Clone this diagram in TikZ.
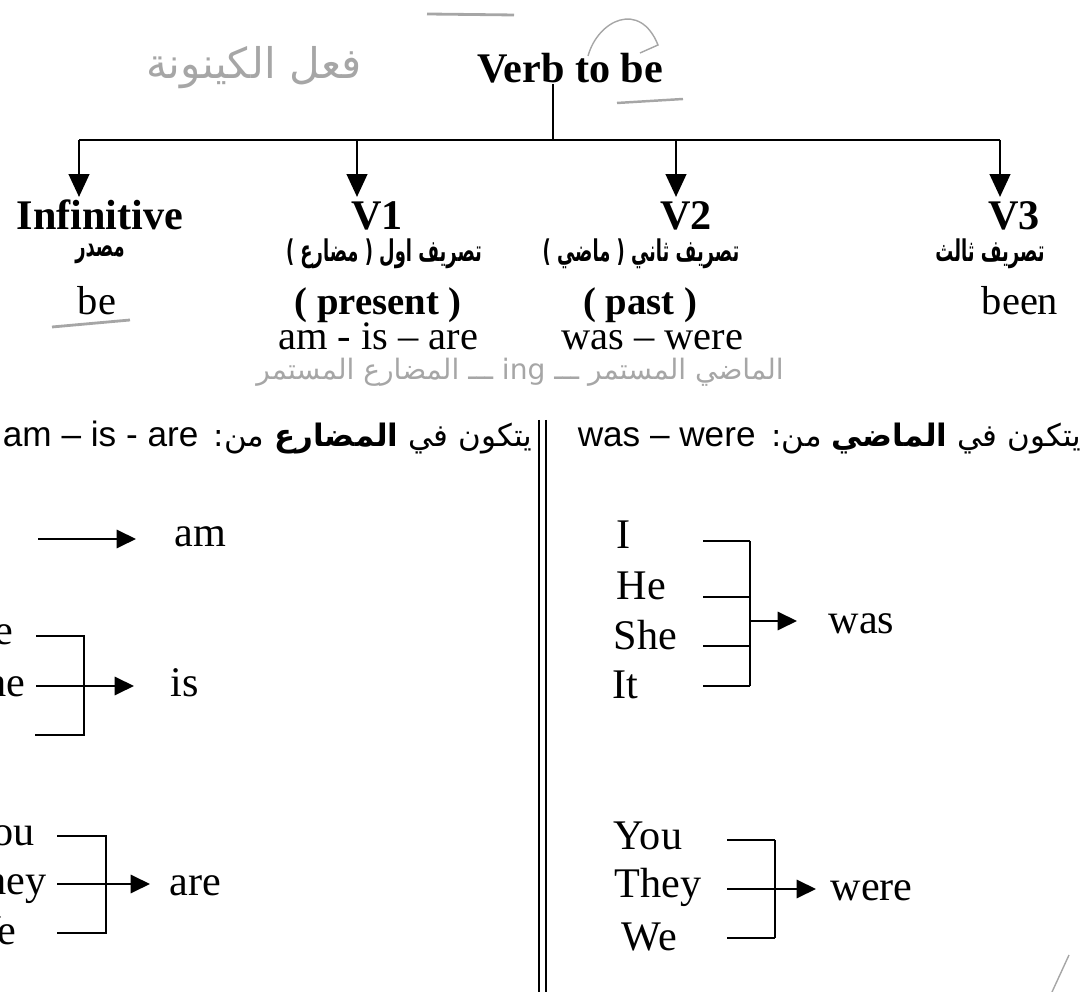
\documentclass[tikz,border=0pt]{standalone}
\usepackage{fontspec}
\usepackage{graphicx}
\setmainfont{Liberation Serif}
\newfontfamily\sansfont{Liberation Sans}
\newfontfamily\arabicfont[Script=Arabic]{DejaVu Sans}
\TeXXeTstate=1
\usetikzlibrary{arrows.meta}
% narrow Arabic caption under a verb form
\newcommand{\arcap}[1]{\scalebox{0.6}[1]{\arabicfont\bfseries\beginR #1\endR}}

\begin{document}
\begin{tikzpicture}[x=0.01cm,y=-0.01cm,
  every node/.style={inner sep=0pt},
  hdr/.style={font=\bfseries\fontsize{12}{14}\selectfont, anchor=base},
  arsub/.style={font=\fontsize{8.5}{10}\selectfont},
  vform/.style={font=\fontsize{11.5}{14}\selectfont, anchor=base},
  defn/.style={font=\arabicfont\fontsize{8.8}{11}\selectfont, anchor=base east},
  latn/.style={font=\sansfont\fontsize{10}{12}\selectfont, anchor=base east},
  pron/.style={font=\fontsize{12}{14}\selectfont},
  tree/.style={line width=0.8pt},
  brk/.style={line width=0.6pt},
  bigtip/.style={-{Triangle[length=6.5pt,width=5.8pt]}},
  tip/.style={-{Triangle[length=5.5pt,width=5.2pt]}},
  hand/.style={gray!70, line width=0.4pt},
  note/.style={font=\arabicfont\fontsize{8}{10}\selectfont, gray!70},
]
\useasboundingbox (0,0) rectangle (1091,992);
\clip (0,0) rectangle (1091,992);

% title and tree
\node[hdr] (title) at (570,83) {Verb to be};
\coordinate (stem) at (553,140);
\coordinate (barL) at (79,140);
\coordinate (barR) at (1000,140);
\draw[tree] (title.south -| stem) -- (stem);
\draw[tree] (barL) -- (barR);
\foreach \x/\n in {79/tinf,357/tone,676/ttwo,1000/tthree}{
  \coordinate (\n) at (\x,197);
  \draw[tree,bigtip] (\x,140) -- (\n);
}

% verb forms
\node[hdr] (inf) at (100,230) {Infinitive};
\node[hdr] (vone) at (377,230) {V1};
\node[hdr] (vtwo) at (686,230) {V2};
\node[hdr] (vthree) at (1014,230) {V3};

\node[arsub] (infAr) at (100,254) {\arcap{مصدر}};
\node[arsub] (voneAr) at (384,254) {\arcap{تصريف اول ( مضارع )}};
\node[arsub] (vtwoAr) at (641,254) {\arcap{تصريف ثاني ( ماضي )}};
\node[arsub] (vthreeAr) at (990,254) {\arcap{تصريف ثالث}};

\node[vform] (be) at (97,315) {be};
\node[hdr, font=\bfseries\fontsize{11}{13}\selectfont] (pres) at (378,315) {( present )};
\node[hdr, font=\bfseries\fontsize{11}{13}\selectfont] (past) at (640,315) {( past )};
\node[vform] (been) at (1020,315) {been};
\node[vform] (presforms) at (378,350) {am - is – are};
\node[vform] (pastforms) at (652,350) {was – were};

% hand notes
\node[note, font=\arabicfont\fontsize{12}{14}\selectfont] (kaynuna) at (254,68) {\beginR فعل الكينونة\endR};
\node[note] (cont) at (520,372) {\beginR الماضي المستمر ـــ \beginL ing\endL{} ـــ المضارع المستمر\endR};
\draw[hand] (588,56) .. controls (598,20) and (640,0) .. (658,45) -- (640,53);
\draw[hand, line width=0.7pt] (617,103) -- (683,99);
\draw[hand, line width=0.8pt] (52,327) -- (130,320);
\draw[hand, line width=0.8pt] (427,14) -- (514,15);
\draw[hand] (1069,955) -- (1052,992);

% separator
\draw[brk] (539,420) -- (539,992);
\draw[brk] (546,420) -- (546,992);

% present
\node[defn] (presDef) at (533,447) {\beginR يتكون في \textbf{المضارع} من:\endR};
\node[latn] (presList) at ([xshift=-4pt]presDef.base west) {am – is - are};

\coordinate (amS) at (38,539);
\coordinate (amT) at (136,539);
\node[pron, anchor=base west] (am) at (174,547) {am};
\draw[brk,tip] (amS) -- (amT);

\node[pron, anchor=base east] (he) at (14,645) {He};
\node[pron, anchor=base east] (she) at (26,697) {She};
\node[pron, anchor=base west] (is) at (170,697) {is};
\draw[brk] (36,636) -- (84,636) -- (84,735) -- (35,735);
\coordinate (isS) at (36,686);
\coordinate (isT) at (134,686);
\draw[brk,tip] (isS) -- (isT);

\node[pron, anchor=base east] (you) at (35,846) {You};
\node[pron, anchor=base east] (they) at (47,895) {They};
\node[pron, anchor=base east] (we) at (17,944) {We};
\node[pron, anchor=base west] (are) at (169,896) {are};
\draw[brk] (57,836) -- (106,836) -- (106,933) -- (57,933);
\coordinate (areS) at (57,884);
\coordinate (areT) at (150,884);
\draw[brk,tip] (areS) -- (areT);

% past
\node[defn] (pastDef) at (1082,447) {\beginR يتكون في \textbf{الماضي} من:\endR};
\node[latn] (pastList) at ([xshift=-4pt]pastDef.base west) {was – were};

\node[pron, anchor=base west] (pI) at (616,549) {I};
\node[pron, anchor=base west] (pHe) at (616,600) {He};
\node[pron, anchor=base west] (pShe) at (613,650) {She};
\node[pron, anchor=base west] (pIt) at (612,699) {It};
\node[pron, anchor=base west] (was) at (828,634) {was};
\foreach \y in {541,597,646,686}
  \draw[brk] (703,\y) -- (750,\y);
\draw[brk] (750,541) -- (750,686);
\coordinate (wasS) at (750,621);
\coordinate (wasT) at (797,621);
\draw[brk,tip] (wasS) -- (wasT);

\node[pron, anchor=base west] (pYou) at (613,850) {You};
\node[pron, anchor=base west] (pThey) at (614,898) {They};
\node[pron, anchor=base west] (pWe) at (621,950) {We};
\node[pron, anchor=base west] (were) at (830,900) {were};
\foreach \y in {840,889,938}
  \draw[brk] (727,\y) -- (775,\y);
\draw[brk] (775,840) -- (775,938);
\coordinate (wereS) at (775,889);
\coordinate (wereT) at (816,889);
\draw[brk,tip] (wereS) -- (wereT);
\end{tikzpicture}
\end{document}
